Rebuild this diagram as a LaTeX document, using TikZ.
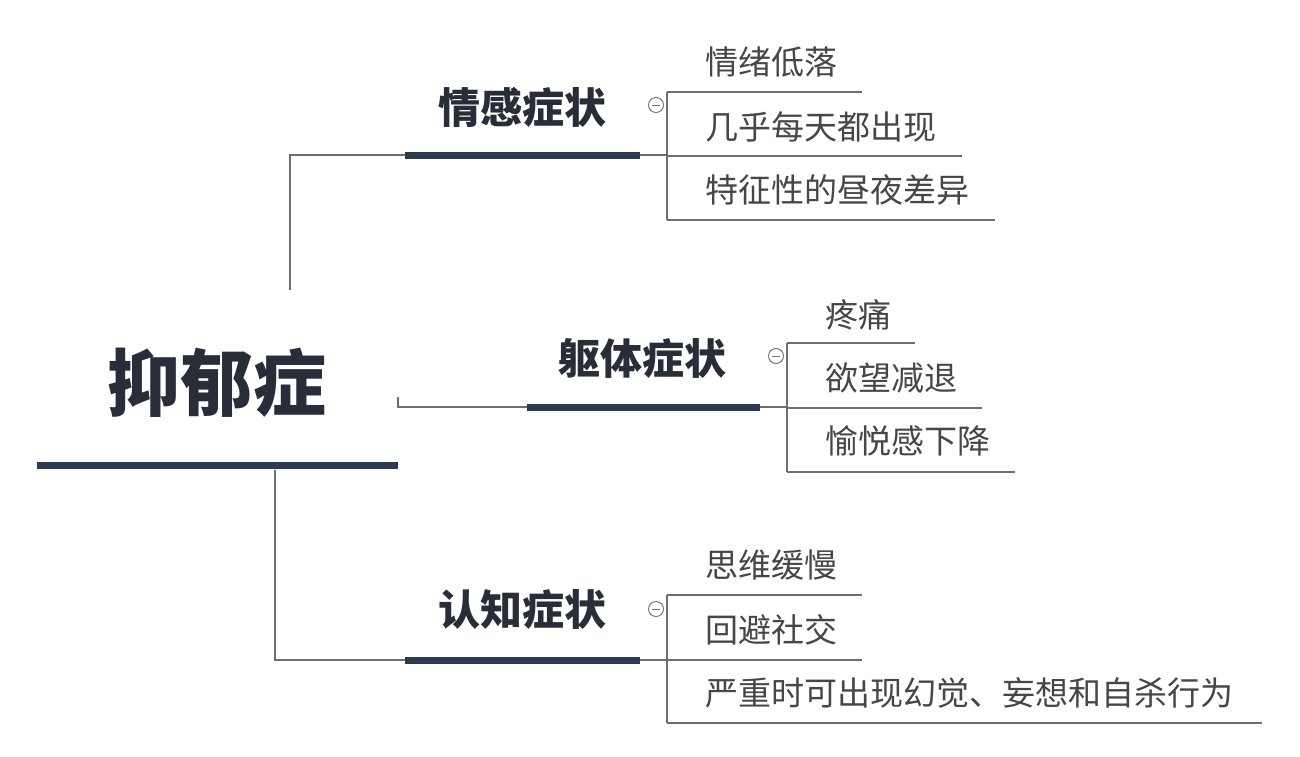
\documentclass[tikz,border=0pt]{standalone}
\usepackage{fontspec}
\newfontfamily\cjk{Noto Sans CJK SC}
\begin{document}
\begin{tikzpicture}[x=1pt,y=-1pt,
  bar/.style={line width=7pt,color={rgb,255:red,44;green,58;blue,80}},
  thin/.style={line width=1.5pt,color={rgb,255:red,110;green,110;blue,110}},
  cat/.style={font=\cjk\bfseries\fontsize{42}{46}\selectfont,text={rgb,255:red,40;green,45;blue,55},inner sep=0},
  leaf/.style={font=\cjk\fontsize{33}{36}\selectfont,text={rgb,255:red,70;green,70;blue,70},anchor=west,inner sep=0},
  tog/.style={circle,draw={rgb,255:red,120;green,120;blue,120},line width=1pt,minimum size=15pt,inner sep=0}]
\useasboundingbox (0,0) rectangle (1300,756);
\fill[white] (0,0) rectangle (1300,756);
% root
\node[font=\cjk\bfseries\fontsize{73}{77}\selectfont,text={rgb,255:red,40;green,45;blue,55},inner sep=0] (root) at (217,383) {抑郁症};
\draw[bar] (37,465) -- (398,465);
% categories
\node[cat] (c1) at (522,107) {情感症状};
\node[cat] (c2) at (642,358) {躯体症状};
\node[cat] (c3) at (522,610) {认知症状};
\draw[bar] (405,155) -- (640,155);
\draw[bar] (527,407) -- (760,407);
\draw[bar] (405,660) -- (640,660);
\coordinate (a1) at (290,290); \coordinate (a2) at (290,155);
\draw[thin] (a1) -- (a2) -- (405,155);
\draw[thin] (398,397) -- (398,407) -- (527,407);
\draw[thin] (275,470) -- (275,660) -- (405,660);
% toggles
\foreach \x/\y/\n in {656/105/t1,776/356/t2,656/609/t3}{
  \node[tog] (\n) at (\x,\y) {};
  \draw[line width=0.8pt,color={rgb,255:red,120;green,120;blue,120}] (\x-4,\y) -- (\x+4,\y);}
% group 1
\draw[thin] (640,155) -- (667,155);
\draw[thin] (667,92) -- (667,220);
\draw[thin] (667,92) -- (862,92);
\draw[thin] (667,156) -- (962,156);
\draw[thin] (667,220) -- (995,220);
\node[leaf] (l11) at (705,62) {情绪低落};
\node[leaf] (l12) at (705,127) {几乎每天都出现};
\node[leaf] (l13) at (705,190) {特征性的昼夜差异};
% group 2
\draw[thin] (760,407) -- (787,407);
\draw[thin] (787,343) -- (787,472);
\draw[thin] (787,343) -- (915,343);
\draw[thin] (787,408) -- (982,408);
\draw[thin] (787,472) -- (1015,472);
\node[leaf] (l21) at (825,315) {疼痛};
\node[leaf] (l22) at (825,378) {欲望减退};
\node[leaf] (l23) at (825,441) {愉悦感下降};
% group 3
\draw[thin] (640,660) -- (667,660);
\draw[thin] (667,595) -- (667,723);
\draw[thin] (667,595) -- (862,595);
\draw[thin] (667,660) -- (862,660);
\draw[thin] (667,723) -- (1262,723);
\node[leaf] (l31) at (705,565) {思维缓慢};
\node[leaf] (l32) at (705,630) {回避社交};
\node[leaf] (l33) at (705,693) {严重时可出现幻觉、妄想和自杀行为};
\end{tikzpicture}
\end{document}
